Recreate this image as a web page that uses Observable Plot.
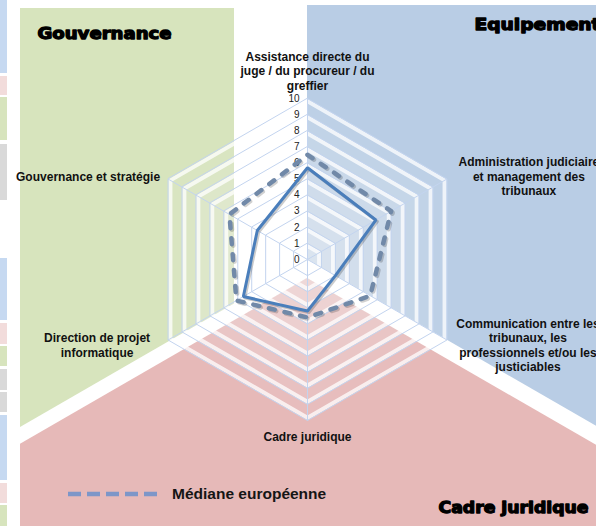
<!DOCTYPE html>
<html><head><meta charset="utf-8">
<script src="https://cdn.jsdelivr.net/npm/d3@7"></script>
<script src="https://cdn.jsdelivr.net/npm/@observablehq/plot@0.6"></script>
<style>
html,body{margin:0;padding:0;background:#fff;overflow:hidden;}
#wrap{position:relative;width:596px;height:526px;}
#legend{position:absolute;left:68px;top:485px;display:flex;align-items:center;font-family:"Liberation Sans",Arial,sans-serif;font-weight:bold;font-size:15.5px;color:#151515;white-space:nowrap;}
#legend svg{margin-right:12px;}
</style></head><body>
<div id="wrap"><div id="chart"></div><div id="legend"></div></div>
<script>
// ---- data ----
const axisNames = [
  "Assistance directe du\njuge / du procureur / du\ngreffier",
  "Administration judiciaire\net management des\ntribunaux",
  "Communication entre les\ntribunaux, les\nprofessionnels et/ou les\njusticiables",
  "Cadre juridique",
  "Direction de projet\ninformatique",
  "Gouvernance et stratégie"
];
const countryValues = [5.7, 4.9, 2.0, 3.2, 4.6, 3.6];
const medianValues  = [6.5, 6.0, 4.5, 3.6, 5.1, 5.6];
const gridLevels = [1, 2, 3, 4, 5, 6, 7, 8, 9, 10];
const tickLabels = ["0", "1", "2", "3", "4", "5", "6", "7", "8", "9", "10"];
const panelTitles = ["Gouvernance", "Equipement", "Cadre juridique"];
const legendLabel = "Médiane européenne";

// ---- geometry helpers ----
const W = 596, H = 526, CX = 307, CY = 259, PX = 16.1;
const T = Math.tan(Math.PI / 6);
const xmin = -CX / PX, xmax = (W - CX) / PX, ymin = -(H - CY) / PX, ymax = CY / PX;
const ang = i => Math.PI / 2 - i * Math.PI / 3;
const polar = (i, r) => ({x: r * Math.cos(ang(i)), y: r * Math.sin(ang(i))});
const u = px => (px - CX) / PX, v = py => (CY - py) / PX;

const countryPts = countryValues.map((d, i) => polar(i, d));
const medianPts = medianValues.map((d, i) => polar(i, d));
const ringPts = gridLevels.flatMap(L => axisNames.map((_, i) => ({...polar(i, L), level: L})));
const ringInner = gridLevels.flatMap(L => axisNames.map((_, i) => ({...polar(i, L - 0.17), level: L})));
const spokes = axisNames.map((_, i) => ({x1: 0, y1: 0, ...polar(i, 10)}));
const tips = axisNames.map((name, i) => ({name, ...polar(i, 10)}));

// decorative panels, tied to the radar's spoke directions
const blueTop = v(5), greenTop = v(8), greenL = u(20), greenR = u(234), pinkApex = -1.18;
const bluePanel = [{x: 0, y1: 0, y2: blueTop}, {x: xmax, y1: -xmax * T, y2: blueTop}];
const greenPanel = [{x: greenL, y1: greenL * T - 0.15, y2: greenTop}, {x: greenR, y1: greenR * T - 0.15, y2: greenTop}];
const pinkPanel = [greenL, 0, xmax].map(x => ({x, y1: ymin, y2: pinkApex - Math.abs(x) * T}));
const strips = [
  [0, 73, "#c6d9f1"], [76, 95, "#f2dcdb"], [97, 140, "#d7e4bd"], [144, 200, "#d9d9d9"],
  [258, 320, "#c6d9f1"], [323, 344, "#f2dcdb"], [346, 366, "#d7e4bd"], [369, 390, "#d9d9d9"],
  [392, 412, "#d9d9d9"], [415, 480, "#c6d9f1"], [483, 503, "#f2dcdb"], [505, 526, "#d7e4bd"]
].map(([a, b, c]) => ({x1: xmin, x2: u(7), y1: v(a), y2: v(b), c}));

const labelFont = {fontFamily: "Liberation Sans, Arial, sans-serif", fontWeight: "bold", fontSize: 12, fill: "#111", lineHeight: 1.2};
const labelOffsets = [[0, -28], [82, -3], [81, 5], [0, 16], [-71, 5], [-80, -3]];
const titleFont = {fontFamily: "DejaVu Sans, sans-serif", fontWeight: "bold", fontSize: 16, fill: "#000", stroke: "#000", strokeWidth: 1.3, textAnchor: "start", lineAnchor: "middle"};

const chart = Plot.plot({
  width: W, height: H, margin: 0,
  x: {domain: [xmin, xmax], axis: null},
  y: {domain: [ymin, ymax], axis: null},
  marks: [
    Plot.rect(strips, {x1: "x1", x2: "x2", y1: "y1", y2: "y2", fill: "c"}),
    Plot.areaY(greenPanel, {x: "x", y1: "y1", y2: "y2", fill: "#d7e4bd"}),
    Plot.areaY(bluePanel, {x: "x", y1: "y1", y2: "y2", fill: "#b9cde5"}),
    Plot.areaY(pinkPanel, {x: "x", y1: "y1", y2: "y2", fill: "#e6b9b8"}),
    // grid with bevel shading
    Plot.line(ringPts, {x: "x", y: "y", z: "level", curve: "linear-closed", fill: "white", fillOpacity: 0.07, stroke: "none"}),
    Plot.line(ringInner, {x: "x", y: "y", z: "level", curve: "linear-closed", stroke: "white", strokeWidth: 4, strokeOpacity: 0.75}),
    Plot.link(spokes, {x1: "x1", y1: "y1", x2: "x", y2: "y", stroke: "#c3d4ef", strokeWidth: 1}),
    Plot.line(ringPts, {x: "x", y: "y", z: "level", curve: "linear-closed", stroke: "#c3d4ef", strokeWidth: 1}),
    // tick labels
    Plot.text(tickLabels, {x: 0, y: d => +d, text: d => d, dx: -8, textAnchor: "end", fontSize: 10, fontFamily: "Liberation Sans, Arial, sans-serif", fill: "#222"}),
    // median (dashed)
    Plot.line(medianPts, {x: "x", y: "y", curve: "linear-closed", stroke: "#000", strokeOpacity: 0.18, strokeWidth: 4.5, strokeDasharray: "6,10", strokeLinecap: "round", dx: 1.5, dy: 1.5}),
    Plot.line(medianPts, {x: "x", y: "y", curve: "linear-closed", stroke: "#7189a8", strokeWidth: 4.5, strokeDasharray: "6,10", strokeLinecap: "round"}),
    // country (solid)
    Plot.line(countryPts, {x: "x", y: "y", curve: "linear-closed", stroke: "#000", strokeOpacity: 0.2, strokeWidth: 3, dx: 1.5, dy: 1.5}),
    Plot.line(countryPts, {x: "x", y: "y", curve: "linear-closed", stroke: "#4a7ebb", strokeWidth: 3, strokeLinejoin: "miter"}),
    // axis labels
    ...tips.map((t, i) => Plot.text([t], {x: "x", y: "y", text: "name", textAnchor: "middle", lineAnchor: "middle", dx: labelOffsets[i][0], dy: labelOffsets[i][1], ...labelFont})),
    // panel titles
    Plot.text([panelTitles[0]], {frameAnchor: "top-left", dx: 37, dy: 33.5, ...titleFont}),
    Plot.text([panelTitles[1]], {frameAnchor: "top-left", dx: 474, dy: 24.5, ...titleFont}),
    Plot.text([panelTitles[2]], {frameAnchor: "bottom-left", dx: 438, dy: -18.5, ...titleFont})
  ]
});
document.getElementById("chart").appendChild(chart);

// stretch heavy titles to the reference widths (title marks only)
const titleLengths = {"Gouvernance": 134, "Equipement": 126, "Cadre juridique": 150};
d3.select(chart).selectAll("g[font-family^='DejaVu'] text").each(function () {
  const t = this.textContent;
  if (titleLengths[t]) { this.setAttribute("textLength", titleLengths[t]); this.setAttribute("lengthAdjust", "spacingAndGlyphs"); }
});

// legend
const lg = d3.select("#legend");
const ls = lg.append("svg").attr("width", 92).attr("height", 8);
ls.append("line").attr("x1", 0).attr("x2", 92).attr("y1", 4).attr("y2", 4)
  .attr("stroke", "#7d96c8").attr("stroke-width", 4.5).attr("stroke-dasharray", "13,6");
lg.append("span").text(legendLabel);
</script></body></html>
